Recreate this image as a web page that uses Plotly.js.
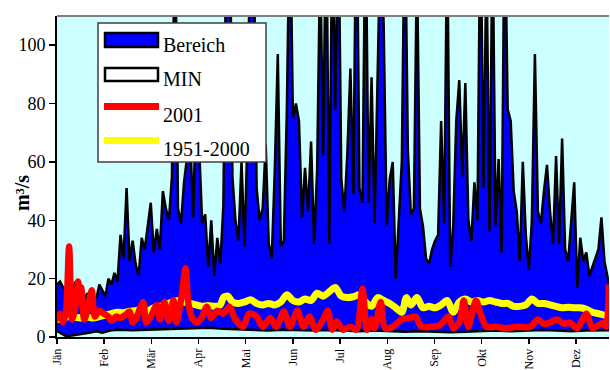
<!DOCTYPE html>
<html>
<head>
<meta charset="utf-8">
<script src="https://cdn.plot.ly/plotly-3.0.1.min.js"></script>
<style>html,body{margin:0;padding:0;background:#fff;}#chart{width:610px;height:370px;}</style>
</head>
<body>
<div id="chart"></div>
<script>
// Month tick labels
var monthLabels = ["Jän","Feb","Mär","Apr","Mai","Jun","Jul","Aug","Sep","Okt","Nov","Dez"];
var monthTickDays = [0,31.2,62.4,93.6,124.8,156,187.2,218.4,249.6,280.8,312,343.2];

// MAX (upper bound of Bereich), every 2 days
var maxDay = [0,2,4,6,8,10,12,14,16,18,20,22,24,26,28,30,32,34,36,38,40,42,44,46,48,50,52,54,56,58,60,62,64,66,68,70,72,74,76,78,80,82,84,86,88,90,92,94,96,98,100,102,104,106,108,110,112,114,116,118,120,122,124,126,128,130,132,134,136,138,140,142,144,146,148,150,152,154,156,158,160,162,164,166,168,170,172,174,176,178,180,182,184,186,188,190,192,194,196,198,200,202,204,206,208,210,212,214,216,218,220,222,224,226,228,230,232,234,236,238,240,242,244,246,248,250,252,254,256,258,260,262,264,266,268,270,272,274,276,278,280,282,284,286,288,290,292,294,296,298,300,302,304,306,308,310,312,314,316,318,320,322,324,326,328,330,332,334,336,338,340,342,344,346,348,350,352,354,356,358,360,362,365];
var maxVal = [18,19,17,16,18,15,19,14,17,13,15,12,14,13,18,16,14,20,18,22,19,35,27,51,26,33,25,21,34,30,39,46,29,37,30,50,44,40,55,150,44,39,53,61,70,41,80,65,39,42,24,40,21,34,25,45,140,160,55,40,33,60,31,70,150,140,51,40,44,66,32,27,57,97,31,33,78,150,75,80,74,41,58,43,67,32,57,130,62,150,32,140,78,150,54,43,63,92,49,160,51,46,150,46,89,39,85,140,107,38,54,60,20,38,60,150,64,42,44,130,44,38,27,25,30,33,35,74,39,140,24,38,74,88,55,87,40,33,53,40,150,51,130,36,140,38,61,29,150,78,74,50,43,26,60,35,23,40,97,43,39,50,59,43,32,62,32,68,30,26,40,53,17,34,26,29,21,24,27,30,41,26,18];

// MIN
var minDay = [0,3,6,10,14,18,22,26,30,35,40,50,60,70,80,90,100,110,120,130,140,150,160,170,180,190,200,210,220,230,240,250,260,270,280,290,300,310,320,330,340,350,365];
var minVal = [2,1,0.3,0.5,0.8,1,1.5,2,1.5,2.2,2.5,2.3,2.5,2.6,2.8,3,3.2,2.8,2.6,2.4,2.2,2.5,2.3,2.2,2.4,2.2,2.0,2.2,2.0,1.8,2.0,1.8,1.6,1.8,2.0,2.2,2.0,2.2,2.4,2.2,2.0,2.2,2.3];

// 1951-2000 mean
var meanDay = [0,4,8,12,16,20,24,28,32,36,40,44,48,52,56,60,64,68,72,76,80,84,88,92,96,100,104,108,110,113,116,120,124,128,132,136,140,144,148,152,156,160,164,168,172,176,180,184,188,192,196,200,204,208,212,216,220,224,228,231,234,238,242,246,250,254,258,262,266,270,274,278,282,286,290,294,298,302,306,310,314,318,322,326,330,334,338,342,346,350,354,358,362,365];
var meanVal = [6,6.5,7,6.8,6.5,6.8,6.5,7,7.5,8,8.5,8.3,8.8,9,9.5,9,10,10.5,11,12,12.5,12,11.5,11,10.5,10.8,10.5,11,13.5,14,12,11.5,12,12.8,11.5,11,11.5,11,12,14.5,12.5,12,13,12.5,15,14,15.5,17,14,13.5,13.8,14.5,12,10.5,13.5,12.5,11.5,10,8.5,13.5,11,13.5,10,10.5,10,11,12.5,8.5,12,13,12,12.5,12,12.5,12,11.5,11.5,10.5,10.5,11,13,11.5,11.5,11,10.5,10,10.2,10,10,9.5,8.5,8,7.5,7];

// 2001
var y2001Day = [0,2,4,6,8,10,12,14,15,16,18,20,23,25,28,31,34,36,39,42,45,48,50,52,55,57,59,62,66,68,71,74,77,79,82,85,87,90,93,96,99,102,106,110,114,118,123,127,132,136,141,145,150,154,159,163,167,171,176,179,182,185,189,194,198,202,205,208,210,214,217,222,228,233,237,241,247,253,259,262,266,269,272,277,280,284,290,297,304,313,318,322,326,331,335,339,344,350,354,358,361,363,365];
var y2001Val = [5.5,8,5,9,31,6,10,19,13,17,6,9,16,7,9,8,7,5.5,7,6.5,7.5,8.7,5,6,10,12,5,7,11,6,12,5.5,12.7,5,12.7,23.5,11,6,5,7,10.4,6.5,9,8,10.4,6,3.5,8,7,3.5,6.5,3.5,8.7,3.5,9,3.5,7,2.5,6,9,2.5,5.3,2.5,3.5,2.5,16.5,2.5,6,3,12,3,3.5,6,6.5,7,3.5,3.5,4,7,3,5,12.5,3.5,12.5,8,3.5,3.5,3,3.5,3.5,6,4.5,5,6,4.5,5,3,8,3,4,4.8,3.5,18];

// Legend entries
var legendNames = ["Bereich","MIN","2001","1951-2000"];

var serif = "Liberation Serif, Times New Roman, serif";

var traces = [
  {x: minDay, y: minVal, name: legendNames[1], type: "scatter", mode: "lines",
   line: {color: "#000", width: 2.5}, showlegend: false},
  {x: maxDay, y: maxVal, name: legendNames[0], type: "scatter", mode: "lines",
   fill: "tonexty", fillcolor: "#0000FF",
   line: {color: "#000", width: 2.5}, showlegend: false},
  {x: meanDay, y: meanVal, name: legendNames[3], type: "scatter", mode: "lines",
   line: {color: "#FFFF00", width: 7, shape: "spline", smoothing: 0.8}, showlegend: false},
  {x: y2001Day, y: y2001Val, name: legendNames[2], type: "scatter", mode: "lines",
   line: {color: "#FF0000", width: 6.5, shape: "spline", smoothing: 0.8}, showlegend: false}
];

// legend box drawn with paper-referenced shapes
var P = function (px) { return (px - 57) / 552; };
var Q = function (py) { return (337 - py) / 321; };
var shapes = [
  {type: "line", xref: "paper", yref: "paper", x0: 0, x1: 1, y0: 1, y1: 1,
   line: {color: "#808080", width: 2}},
  {type: "rect", xref: "paper", yref: "paper", x0: P(98), x1: P(266), y0: Q(162), y1: Q(23),
   fillcolor: "#fff", line: {color: "#404040", width: 1.5}},
  {type: "rect", xref: "paper", yref: "paper", x0: P(105), x1: P(158), y0: Q(47), y1: Q(33),
   fillcolor: "#0000FF", line: {color: "#000", width: 2.5}},
  {type: "rect", xref: "paper", yref: "paper", x0: P(105), x1: P(158), y0: Q(81), y1: Q(68),
   fillcolor: "#fff", line: {color: "#000", width: 2.5}},
  {type: "line", xref: "paper", yref: "paper", x0: P(104), x1: P(159), y0: Q(106.5), y1: Q(106.5),
   line: {color: "#FF0000", width: 7}},
  {type: "line", xref: "paper", yref: "paper", x0: P(104), x1: P(159), y0: Q(140.5), y1: Q(140.5),
   line: {color: "#FFFF00", width: 7}}
];
var legendTextY = [45, 79.5, 114.5, 149];
var annotations = legendNames.map(function (n, i) {
  return {text: n, xref: "paper", yref: "paper", x: P(161), y: Q(legendTextY[i]),
          xanchor: "left", yanchor: "middle", showarrow: false,
          font: {family: serif, size: 20, color: "#000"}};
});
annotations.push({text: "<b>m³/s</b>", xref: "paper", yref: "paper", x: P(22), y: Q(193),
  xanchor: "center", yanchor: "middle", showarrow: false, textangle: -90,
  font: {family: serif, size: 20, color: "#000"}});

var layout = {
  width: 610, height: 370,
  margin: {l: 57, r: 1, t: 16, b: 33},
  paper_bgcolor: "#fff",
  plot_bgcolor: "#CCFFFF",
  font: {family: serif, color: "#000"},
  showlegend: false,
  xaxis: {range: [0, 365], tickmode: "array", tickvals: monthTickDays, ticktext: monthLabels,
          tickangle: -90, tickfont: {family: serif, size: 12},
          ticks: "outside", ticklen: 5, tickwidth: 1.5, tickcolor: "#000",
          showline: true, linecolor: "#000", linewidth: 2, showgrid: false, zeroline: false, fixedrange: true},
  yaxis: {range: [0, 110], tickmode: "array", tickvals: [0,20,40,60,80,100],
          tickfont: {family: serif, size: 18},
          ticks: "outside", ticklen: 6, tickwidth: 1.5, tickcolor: "#000",
          showline: true, linecolor: "#000", linewidth: 2, showgrid: false, zeroline: false, fixedrange: true},
  shapes: shapes,
  annotations: annotations
};

Plotly.newPlot("chart", traces, layout, {displayModeBar: false, staticPlot: true});
</script>
</body>
</html>
